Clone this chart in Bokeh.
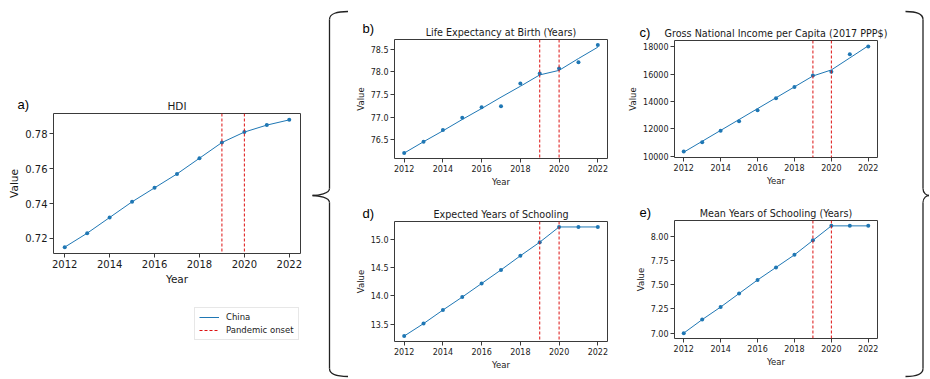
from bokeh.plotting import figure
from bokeh.models import (Range1d, FixedTicker, NumeralTickFormatter, Span, Title,
                          Legend, LegendItem)
from bokeh.layouts import row, column
from bokeh.embed import file_html
from bokeh.resources import INLINE

# ---------------- data ----------------
years = [2012, 2013, 2014, 2015, 2016, 2017, 2018, 2019, 2020, 2021, 2022]
year_ticks = [2012, 2014, 2016, 2018, 2020, 2022]
pandemic_years = [2019, 2020]

hdi_actual = [0.715, 0.723, 0.732, 0.741, 0.749, 0.757, 0.766, 0.775, 0.781, 0.785, 0.788]
hdi_fit = [0.715, 0.723, 0.732, 0.741, 0.749, 0.757, 0.766, 0.775, 0.781, 0.785, 0.788]
hdi_ticks = [0.72, 0.74, 0.76, 0.78]

le_actual = [76.21, 76.46, 76.72, 76.99, 77.22, 77.24, 77.74, 77.96, 78.07, 78.21, 78.59]
le_fit = [76.21, 76.46, 76.70, 76.95, 77.19, 77.44, 77.68, 77.93, 78.03, 78.29, 78.54]
le_ticks = [76.5, 77.0, 77.5, 78.0, 78.5]

gni_actual = [10346, 11030, 11862, 12554, 13363, 14247, 15057, 15910, 16182, 17456, 18025]
gni_fit = [10300, 11095, 11890, 12685, 13480, 14275, 15070, 15866, 16307, 17188, 18070]
gni_ticks = [10000, 12000, 14000, 16000, 18000]

eys_actual = [13.29, 13.51, 13.75, 13.98, 14.22, 14.46, 14.71, 14.95, 15.22, 15.22, 15.22]
eys_fit = [13.29, 13.51, 13.75, 13.98, 14.22, 14.46, 14.71, 14.95, 15.22, 15.22, 15.22]
eys_ticks = [13.5, 14.0, 14.5, 15.0]

mys_actual = [7.00, 7.14, 7.27, 7.41, 7.55, 7.68, 7.81, 7.96, 8.11, 8.11, 8.11]
mys_fit = [7.00, 7.14, 7.27, 7.41, 7.55, 7.68, 7.81, 7.96, 8.11, 8.11, 8.11]
mys_ticks = [7.00, 7.25, 7.50, 7.75, 8.00]

series_name = "China"
onset_name = "Pandemic onset"

# ---------------- styles ----------------
BLUE = "#1f77b4"
RED = "#dd1111"
FONT = "DejaVu Sans"
INK = "#1a1a1a"
FRAME = "#3a3a3a"


def make_panel(title, actual, fit, yticks, fmt, letter, loff, lstand,
               width, height, bl, br, bt, bb, tick_fs, lab_fs, title_fs):
    allv = actual + fit
    lo, hi = min(allv), max(allv)
    pad = (hi - lo) * 0.05
    p = figure(width=width, height=height, output_backend="svg", toolbar_location=None,
               x_range=Range1d(years[0] - 0.5, years[-1] + 0.5),
               y_range=Range1d(lo - pad, hi + pad),
               min_border_left=bl, min_border_right=br,
               min_border_top=bt, min_border_bottom=bb, title=None)
    p.background_fill_color = "white"
    p.border_fill_color = "white"
    p.outline_line_color = FRAME
    p.outline_line_width = 1
    p.xgrid.visible = False
    p.ygrid.visible = False
    main_t = Title(text=title, align="center", standoff=3, text_font=FONT,
                   text_font_style="normal", text_font_size=f"{title_fs}px",
                   text_color=INK)
    # panel letter: a leading empty line lets it sit level with the title
    letter_t = Title(text="\n" + letter, align="left", offset=loff, standoff=lstand,
                     vertical_align="bottom", text_font="Liberation Sans",
                     text_font_style="normal", text_font_size="13px", text_color="black")
    p.add_layout(main_t, "above")
    p.add_layout(letter_t, "above")
    for ax in (p.xaxis[0], p.yaxis[0]):
        ax.axis_line_color = None
        ax.major_tick_line_color = FRAME
        ax.major_tick_out = 4
        ax.major_tick_in = 0
        ax.minor_tick_line_color = None
        ax.major_label_text_font = FONT
        ax.major_label_text_font_size = f"{tick_fs}px"
        ax.major_label_text_color = INK
        ax.major_label_standoff = 2
        ax.axis_label_text_font = FONT
        ax.axis_label_text_font_size = f"{lab_fs}px"
        ax.axis_label_text_font_style = "normal"
        ax.axis_label_text_color = INK
        ax.axis_label_standoff = 2
    p.xaxis.axis_label = "Year"
    p.yaxis.axis_label = "Value"
    p.xaxis.ticker = FixedTicker(ticks=year_ticks)
    p.xaxis.formatter = NumeralTickFormatter(format="0")
    p.yaxis.ticker = FixedTicker(ticks=yticks)
    p.yaxis.formatter = NumeralTickFormatter(format=fmt)

    line_r = p.line(years, fit, line_color=BLUE, line_width=1)
    p.scatter(years, actual, size=4, fill_color=BLUE, line_color=None)
    for yr in pandemic_years:
        p.add_layout(Span(location=yr, dimension="height", line_color=RED,
                          line_width=1, line_dash="3 2"))
    return p, line_r


# panel a (HDI)
pa, la = make_panel("HDI", hdi_actual, hdi_fit, hdi_ticks, "0.00", "a)", -36, -30,
                    308, 290, 53, 8, 113, 37, 10, 10.5, 10.5)

# legend lives in its own small figure under panel a; its sample lines lie
# outside that figure's visible ranges, so only the legend shows
lg = figure(width=308, height=88, output_backend="svg", toolbar_location=None,
            x_range=Range1d(0, 1), y_range=Range1d(0, 1),
            min_border=0, min_border_left=0, min_border_right=0,
            min_border_top=0, min_border_bottom=0)
lg.axis.visible = False
lg.grid.visible = False
lg.outline_line_color = None
lg.background_fill_color = "white"
lg.border_fill_color = "white"
china_r = lg.line([5, 6], [5, 6], line_color=BLUE, line_width=1)
onset_r = lg.line([5, 6], [5, 6], line_color=RED, line_width=1, line_dash="3 2")
legend = Legend(items=[LegendItem(label=series_name, renderers=[china_r]),
                       LegendItem(label=onset_name, renderers=[onset_r])],
                location=(194, 38))
legend.label_text_font = FONT
legend.label_text_font_size = "8.5px"
legend.label_text_color = INK
legend.glyph_width = 20
legend.glyph_height = 10
legend.label_height = 10
legend.spacing = 3
legend.padding = 4
legend.margin = 0
legend.label_standoff = 7
legend.border_line_color = "#d0d0d0"
legend.background_fill_color = "white"
lg.add_layout(legend)

pb, _ = make_panel("Life Expectancy at Birth (Years)", le_actual, le_fit, le_ticks, "0.0",
                   "b)", -32, -24, 277, 190, 46, 18, 39, 32, 8, 8.5, 9.6)
pd_, _ = make_panel("Expected Years of Schooling", eys_actual, eys_fit, eys_ticks, "0.0",
                    "d)", -32, -30, 277, 188, 46, 18, 31, 37, 8, 8.5, 9.6)
pc, _ = make_panel("Gross National Income per Capita (2017 PPP$)", gni_actual, gni_fit,
                   gni_ticks, "0", "c)", -35, -30, 275, 190, 43, 23, 40, 33, 8, 8.5, 9.6)
pe, _ = make_panel("Mean Years of Schooling (Years)", mys_actual, mys_fit, mys_ticks, "0.00",
                   "e)", -35, -30, 275, 188, 43, 23, 30, 40, 8, 8.5, 9.6)


def brace_fig(x0, x1, spine, tip, curl, top, bottom, mid, height):
    f = figure(width=x1 - x0, height=height, output_backend="svg", toolbar_location=None,
               x_range=Range1d(x0, x1), y_range=Range1d(height, 0),
               min_border=0, min_border_left=0, min_border_right=0,
               min_border_top=0, min_border_bottom=0)
    f.axis.visible = False
    f.grid.visible = False
    f.outline_line_color = None
    f.background_fill_color = "white"
    f.border_fill_color = "white"
    # pieces: top curl, upper spine, tip in, tip out, lower spine, bottom curl
    xs0 = [curl, spine, spine, tip, spine, spine]
    ys0 = [top, top + 8, mid - 7, mid, mid + 7, bottom - 8]
    xs1 = [spine, spine, tip, spine, spine, curl]
    ys1 = [top + 8, mid - 7, mid, mid + 7, bottom - 8, bottom]
    cx0 = [spine + (curl - spine) * 0.4, spine, spine, tip + (spine - tip) * 0.35, spine, spine]
    cy0 = [top, top + 8, mid - 2, mid, mid + 7, bottom - 2]
    cx1 = [spine, spine, tip + (spine - tip) * 0.35, spine, spine, spine + (curl - spine) * 0.4]
    cy1 = [top + 2, mid - 7, mid, mid + 2, bottom - 8, bottom]
    f.bezier(x0=xs0, y0=ys0, x1=xs1, y1=ys1, cx0=cx0, cy0=cy0, cx1=cx1, cy1=cy1,
             line_color="#222222", line_width=1.3)
    return f


brace_l = brace_fig(308, 348, 329, 312, 348, 11, 376, 195, 378)
brace_r = brace_fig(900, 929, 922.5, 928.5, 905, 11, 376, 195, 378)

layout = row(column(pa, row(lg)), column(brace_l), column(pb, pd_), column(pc, pe),
             column(brace_r))
open("out.html", "w").write(file_html(layout, INLINE))
